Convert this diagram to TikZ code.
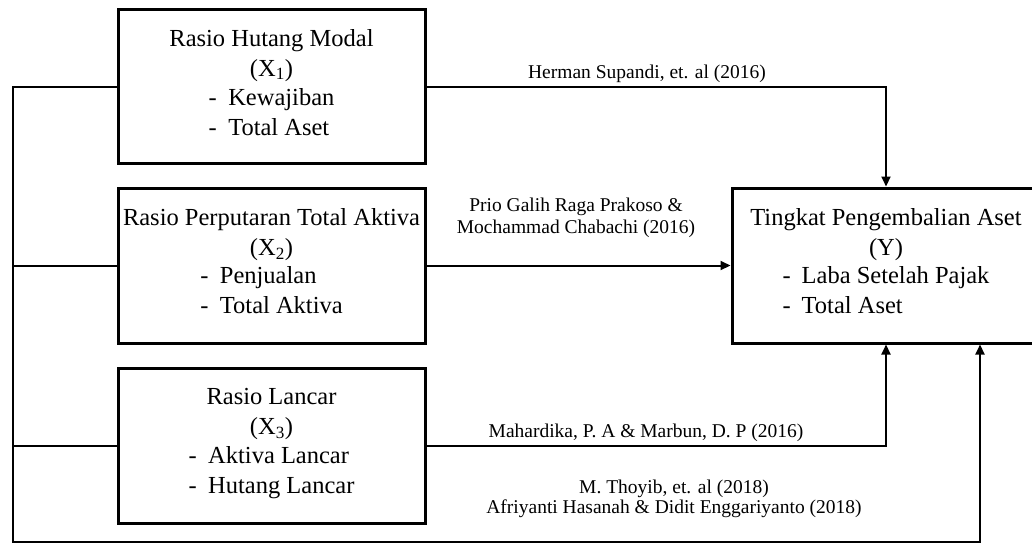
\documentclass[tikz,border=0pt]{standalone}
\usepackage{fontspec}
\setmainfont{Liberation Serif}
\usetikzlibrary{arrows.meta}

\begin{document}
\begin{tikzpicture}[x=1pt, y=-1pt,
  box/.style={draw, line width=3pt, minimum width=307pt, minimum height=155pt, inner sep=2pt, align=center, font=\fontsize{24.5}{30}\selectfont},
  line/.style={line width=2pt},
  arr/.style={line width=2pt, -{Triangle[length=10pt,width=9pt]}},
  lbl/.style={inner sep=0pt, align=center, font=\fontsize{19.5}{22}\selectfont}]
\useasboundingbox (0,0) rectangle (1032,543);
% variables
\node[box, minimum height=153pt] (x1) at (271.5,86.5) {Rasio Hutang Modal\\(X\textsubscript{1})\\[-1pt]
  \begin{tabular}[t]{@{}l@{\hspace{11.5pt}}l@{}}- & Kewajiban\\- & Total Aset\end{tabular}};
\node[box] (x2) at (271.5,265.5) {Rasio Perputaran Total Aktiva\\(X\textsubscript{2})\\[-2pt]
  \begin{tabular}[t]{@{}l@{\hspace{11.5pt}}l@{}}- & Penjualan\\- & Total Aktiva\end{tabular}};
\node[box] (x3) at (271.5,445.5) {Rasio Lancar\\(X\textsubscript{3})\\[-1pt]
  \begin{tabular}[t]{@{}l@{\hspace{11.5pt}}l@{}}- & Aktiva Lancar\\- & Hutang Lancar\end{tabular}};
\node[box, minimum width=308pt] (y) at (886,265.5) {Tingkat Pengembalian Aset\\(Y)\\[-2pt]
  \begin{tabular}[t]{@{}l@{\hspace{11pt}}l@{}}- & Laba Setelah Pajak\\- & Total Aset\end{tabular}};
% arrows to y
\draw[arr] (x1.east) -| (y.north);
\draw[arr] (x2.east) -- (y.west);
\draw[arr] (x3.east) -| (y.south);
% left trunk
\coordinate (lb) at (12.5,541.5);
\draw[line] (x2.west) -- (x2.west -| lb);
\draw[line] (x3.west) -- (x3.west -| lb);
\draw[arr] (x1.west) -| (lb) -| ([xshift=94pt]y.south);
% sources
\node[lbl, anchor=base] (h1) at (647,78) {Herman Supandi, et. al (2016)};
\node[lbl, anchor=base] (h2) at (576,233) {Prio Galih Raga Prakoso \&\\Mochammad Chabachi (2016)};
\node[lbl, anchor=base] (h3) at (646,437) {Mahardika, P. A \& Marbun, D. P (2016)};
\node[lbl, anchor=base, font=\fontsize{19.5}{19.5}\selectfont] (h4) at (674,513) {M. Thoyib, et. al (2018)\\Afriyanti Hasanah \& Didit Enggariyanto (2018)};
\end{tikzpicture}
\end{document}
